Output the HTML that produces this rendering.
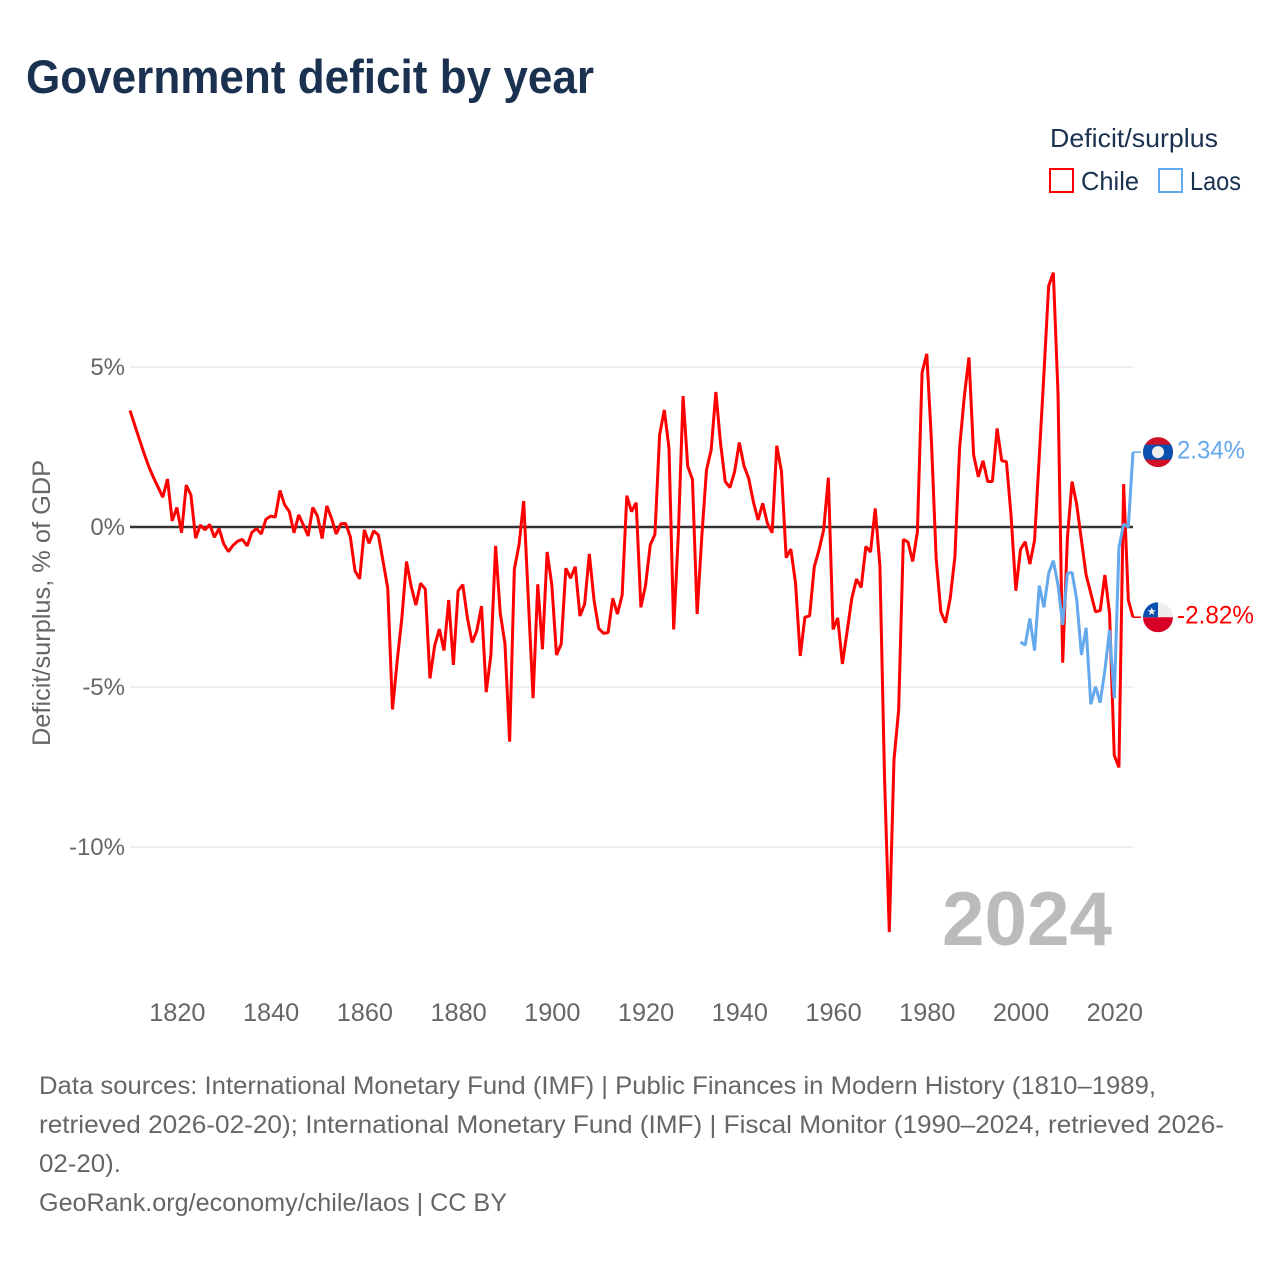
<!DOCTYPE html>
<html lang="en">
<head>
<meta charset="utf-8">
<title>Government deficit by year</title>
<style>
  html, body { margin: 0; padding: 0; background: #fff; }
  svg { display: block; font-family: "Liberation Sans", sans-serif; }
  .footer-line { font-size: 25px; fill: #666; }
  .legend-text { font-size: 26px; fill: #1a3150; }
  .tick { font-size: 24px; fill: #666; }
</style>
</head>
<body>
<svg id="chart" xmlns="http://www.w3.org/2000/svg" width="1280" height="1280" viewBox="0 0 1280 1280">
  <defs>
    <clipPath id="laos-clip"><circle cx="0" cy="0" r="15"></circle></clipPath>
    <clipPath id="chile-clip"><circle cx="0" cy="0" r="15"></circle></clipPath>
  </defs>
  <rect x="0" y="0" width="1280" height="1280" fill="#fff"></rect>
  <text x="26" y="93" font-size="47" font-weight="700" fill="#1a3150" textLength="568" lengthAdjust="spacingAndGlyphs">Government deficit by year</text>

  <g>
    <text class="legend-text" x="1050" y="147" textLength="168" lengthAdjust="spacingAndGlyphs">Deficit/surplus</text>
    <g>
      <rect x="1050" y="169" width="23" height="23" fill="none" stroke="#ff0000" stroke-width="2"></rect>
      <text class="legend-text" x="1081" y="190" textLength="58" lengthAdjust="spacingAndGlyphs">Chile</text>
    </g>
    <g>
      <rect x="1159" y="169" width="23" height="23" fill="none" stroke="#64a8ee" stroke-width="2"></rect>
      <text class="legend-text" x="1190" y="190" textLength="51" lengthAdjust="spacingAndGlyphs">Laos</text>
    </g>
  </g>

  <text transform="translate(50,603) rotate(-90)" text-anchor="middle" font-size="25" fill="#666" textLength="286" lengthAdjust="spacingAndGlyphs">Deficit/surplus, % of GDP</text>

  <g id="grid"></g>
  <g id="x-ticks"></g>
  <g id="y-ticks"></g>

  <text id="year-label" x="942" y="945" font-size="76" font-weight="700" fill="#bbbbbb" textLength="170" lengthAdjust="spacingAndGlyphs">2024</text>

  <g id="series"></g>

  <g id="flag-laos">
    <g clip-path="url(#laos-clip)">
      <rect x="-15" y="-15" width="30" height="30" fill="#ce1126"></rect>
      <rect x="-15" y="-7.5" width="30" height="15" fill="#0a50b0"></rect>
      <circle cx="0" cy="0" r="6" fill="#eeeeee"></circle>
    </g>
  </g>
  <g id="flag-chile">
    <g clip-path="url(#chile-clip)">
      <rect x="-15" y="-15" width="30" height="15" fill="#eeeeee"></rect>
      <rect x="-15" y="0" width="30" height="15" fill="#d80027"></rect>
      <rect x="-15" y="-15" width="15" height="15" fill="#0a50b0"></rect>
      <polygon points="-6.3,-10 -5.2,-7.1 -2.2,-7.1 -4.6,-5.2 -3.7,-2.3 -6.3,-4 -8.9,-2.3 -8,-5.2 -10.4,-7.1 -7.4,-7.1" fill="#eeeeee"></polygon>
    </g>
  </g>
  <text id="value-laos" x="1177" font-size="25" fill="#64a8ee" textLength="68" lengthAdjust="spacingAndGlyphs"></text>
  <text id="value-chile" x="1177" font-size="25" fill="#ff0000" textLength="77" lengthAdjust="spacingAndGlyphs"></text>

  <g>
    <text class="footer-line" x="39" y="1094" textLength="1117" lengthAdjust="spacingAndGlyphs">Data sources: International Monetary Fund (IMF) | Public Finances in Modern History (1810–1989,</text>
    <text class="footer-line" x="39" y="1133" textLength="1185" lengthAdjust="spacingAndGlyphs">retrieved 2026-02-20); International Monetary Fund (IMF) | Fiscal Monitor (1990–2024, retrieved 2026-</text>
    <text class="footer-line" x="39" y="1172" textLength="82" lengthAdjust="spacingAndGlyphs">02-20).</text>
    <text class="footer-line" x="39" y="1211" textLength="468" lengthAdjust="spacingAndGlyphs">GeoRank.org/economy/chile/laos | CC BY</text>
  </g>
</svg>

<script>
const xTickYears = [1820, 1840, 1860, 1880, 1900, 1920, 1940, 1960, 1980, 2000, 2020];
const yTickValues = [5, 0, -5, -10];
const chileStartYear = 1810;
const chileValues = [
  3.64, 3.19, 2.74, 2.30, 1.89, 1.55, 1.24, 0.93, 1.50, 0.19,
  0.61, -0.18, 1.31, 1.00, -0.35, 0.06, -0.09, 0.08, -0.32, -0.05,
  -0.53, -0.77, -0.57, -0.44, -0.39, -0.59, -0.17, -0.05, -0.22, 0.24,
  0.34, 0.31, 1.14, 0.69, 0.48, -0.18, 0.38, 0.06, -0.28, 0.61,
  0.34, -0.36, 0.66, 0.27, -0.22, 0.10, 0.11, -0.30, -1.37, -1.62,
  -0.09, -0.51, -0.12, -0.25, -1.08, -1.92, -5.70, -4.20, -2.85, -1.08,
  -1.86, -2.44, -1.76, -1.94, -4.73, -3.71, -3.19, -3.86, -2.28, -4.31,
  -2.00, -1.80, -2.85, -3.61, -3.24, -2.47, -5.16, -4.00, -0.59, -2.70,
  -3.64, -6.71, -1.32, -0.56, 0.81, -2.30, -5.35, -1.79, -3.82, -0.78,
  -1.81, -4.00, -3.66, -1.29, -1.60, -1.24, -2.78, -2.41, -0.84, -2.28,
  -3.17, -3.32, -3.30, -2.23, -2.72, -2.13, 0.98, 0.48, 0.76, -2.51,
  -1.82, -0.56, -0.23, 2.88, 3.66, 2.46, -3.20, -0.20, 4.09, 1.89,
  1.49, -2.72, -0.30, 1.78, 2.41, 4.22, 2.61, 1.42, 1.23, 1.73,
  2.64, 1.91, 1.52, 0.79, 0.22, 0.74, 0.11, -0.18, 2.54, 1.73,
  -0.96, -0.69, -1.76, -4.03, -2.82, -2.78, -1.24, -0.72, -0.09, 1.54,
  -3.20, -2.84, -4.28, -3.27, -2.23, -1.63, -1.89, -0.61, -0.78, 0.58,
  -1.22, -7.90, -12.66, -7.28, -5.72, -0.39, -0.47, -1.08, -0.15, 4.83,
  5.41, 2.67, -0.98, -2.65, -2.99, -2.23, -0.93, 2.46, 4.07, 5.30,
  2.25, 1.57, 2.07, 1.42, 1.42, 3.08, 2.07, 2.04, 0.32, -1.99,
  -0.70, -0.46, -1.16, -0.41, 2.20, 4.80, 7.53, 7.95, 4.18, -4.24,
  -0.35, 1.42, 0.69, -0.41, -1.50, -2.07, -2.65, -2.61, -1.50, -2.70,
  -7.13, -7.51, 1.34, -2.28, -2.82
];
const laosStartYear = 2000;
const laosValues = [
  -3.59, -3.69, -2.86, -3.86, -1.83, -2.51, -1.45, -1.05, -1.81, -3.06,
  -1.45, -1.42, -2.28, -4.00, -3.15, -5.54, -4.99, -5.49, -4.47, -3.22,
  -5.35, -0.64, 0.09, 0.00, 2.34
];

const SVG_NS = 'http://www.w3.org/2000/svg';
function xScale(year) { return 130 + (year - 1810) * (1003 / 214); }
function yScale(value) { return 527 - value * 32; }
function make(tag, attrs, parent) {
  const el = document.createElementNS(SVG_NS, tag);
  for (const k in attrs) el.setAttribute(k, attrs[k]);
  parent.appendChild(el);
  return el;
}

const gridGroup = document.getElementById('grid');
const yTickGroup = document.getElementById('y-ticks');
const xTickGroup = document.getElementById('x-ticks');
const seriesGroup = document.getElementById('series');

yTickValues.forEach(function (v) {
  const line = make('line', {
    x1: 130, x2: 1133, y1: yScale(v), y2: yScale(v),
    stroke: v === 0 ? '#333333' : '#e8e8e8',
    'stroke-width': v === 0 ? 2.4 : 1.5
  }, gridGroup);
  
  
  const label = make('text', { x: 125, y: yScale(v) + 8, 'text-anchor': 'end', class: 'tick' }, yTickGroup);
  label.textContent = v + '%';
  
  
});

xTickYears.forEach(function (year) {
  const label = make('text', { x: xScale(year) + 0.5, y: 1021, 'text-anchor': 'middle', class: 'tick', style: 'font-size:25.3px' }, xTickGroup);
  label.textContent = String(year);
  
  
});

function drawSeries(values, startYear, color, name) {
  const pts = values.map(function (v, i) {
    return xScale(startYear + i).toFixed(2) + ',' + yScale(v).toFixed(2);
  }).join(' ');
  const line = make('polyline', {
    points: pts, fill: 'none', stroke: color, 'stroke-width': 3,
    'stroke-linejoin': 'bevel'
  }, seriesGroup);
  
  
  const last = values[values.length - 1];
  const lastX = xScale(startYear + values.length - 1);
  const leader = make('line', {
    x1: lastX, x2: lastX + 8, y1: yScale(last), y2: yScale(last),
    stroke: color, 'stroke-width': 1.5
  }, seriesGroup);
  
  
  document.getElementById('flag-' + name).setAttribute('transform', 'translate(1158,' + yScale(last) + ')');
  const valueLabel = document.getElementById('value-' + name);
  valueLabel.setAttribute('y', yScale(last) + 6.5);
  valueLabel.textContent = last.toFixed(2) + '%';
}

drawSeries(chileValues, chileStartYear, '#ff0000', 'chile');
drawSeries(laosValues, laosStartYear, '#64a8ee', 'laos');
</script>
</body>
</html>
